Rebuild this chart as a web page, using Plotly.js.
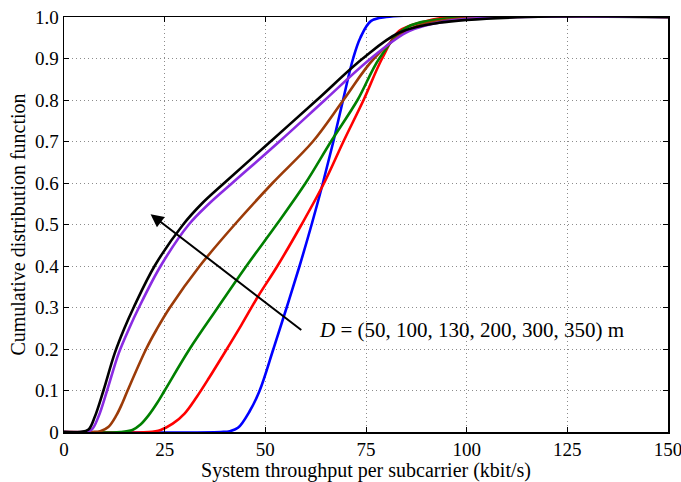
<!DOCTYPE html>
<html><head><meta charset="utf-8">
<script src="https://cdn.plot.ly/plotly-3.0.1.min.js"></script>
<style>html,body{margin:0;padding:0;background:#fff}#c{width:681px;height:482px}</style>
</head><body><div id="c"></div>
<script>
// D = 50 m (blue)
const xD50 = [0, 39, 41.2, 43.2, 46.1, 48.6, 52, 55.3, 58.5, 61.5, 64.3, 66.9, 69.3, 71.8, 73.6, 76.2, 80, 150];
const yD50 = [0, 0, 0.002, 0.01, 0.05, 0.1, 0.2, 0.3, 0.4, 0.5, 0.6, 0.7, 0.8, 0.9, 0.95, 0.99, 1, 1];
// D = 100 m (red)
const xD100 = [0, 21, 24, 27, 30, 33, 36, 39.5, 44, 48.2, 53, 59, 64.6, 69.4, 74.4, 79, 83.2, 89.9, 96, 150];
const yD100 = [0, 0, 0.005, 0.02, 0.045, 0.085, 0.13, 0.185, 0.257, 0.327, 0.4, 0.5, 0.6, 0.7, 0.8, 0.9, 0.966, 0.99, 1, 1];
// D = 130 m (green)
const xD130 = [0, 14, 17, 19, 21, 23, 25, 31.2, 38.2, 45.3, 52.8, 60, 66.3, 72.9, 78.3, 84.9, 93.1, 105, 150];
const yD130 = [0, 0, 0.005, 0.018, 0.04, 0.068, 0.1, 0.2, 0.3, 0.4, 0.5, 0.6, 0.7, 0.8, 0.9, 0.974, 0.994, 1, 1];
// D = 200 m (brown)
const xD200 = [0, 7, 9, 11, 13, 14.5, 15.8, 20.4, 23, 26.3, 33.7, 42.4, 51.8, 61.8, 69.4, 77, 85.7, 95, 110, 150];
const yD200 = [0, 0, 0.002, 0.012, 0.04, 0.07, 0.1, 0.2, 0.247, 0.3, 0.4, 0.5, 0.6, 0.7, 0.8, 0.9, 0.97, 0.993, 1, 1];
// D = 300 m (purple)
const xD300 = [0, 5, 6.9, 8.6, 10.7, 13.6, 16.2, 18.6, 24, 31, 36, 41.8, 53.5, 64.8, 76.2, 85.7, 95, 112, 150];
const yD300 = [0, 0, 0.006, 0.038, 0.1, 0.19, 0.25, 0.3, 0.4, 0.5, 0.55, 0.6, 0.7, 0.8, 0.9, 0.966, 0.99, 1, 1];
// D = 350 m (black)
const xD350 = [0, 4, 6.1, 7.7, 9.8, 12.6, 15, 17.3, 22.5, 29.6, 34.2, 39.8, 51.3, 62.8, 74.2, 83.2, 93.1, 115, 150];
const yD350 = [0, 0, 0.006, 0.038, 0.1, 0.19, 0.25, 0.3, 0.4, 0.5, 0.55, 0.6, 0.7, 0.8, 0.9, 0.962, 0.986, 1, 1];

const xTicks = [0, 25, 50, 75, 100, 125, 150];
const yTicks = [0, 0.1, 0.2, 0.3, 0.4, 0.5, 0.6, 0.7, 0.8, 0.9, 1.0];
const yTickText = ["0", "0.1", "0.2", "0.3", "0.4", "0.5", "0.6", "0.7", "0.8", "0.9", "1.0"];

const series = [
  {x: xD50, y: yD50, c: "#0000ff", n: "D = 50 m"},
  {x: xD100, y: yD100, c: "#ff0000", n: "D = 100 m"},
  {x: xD130, y: yD130, c: "#008000", n: "D = 130 m"},
  {x: xD200, y: yD200, c: "#9c3b08", n: "D = 200 m"},
  {x: xD300, y: yD300, c: "#8a2be2", n: "D = 300 m"},
  {x: xD350, y: yD350, c: "#000000", n: "D = 350 m"}
];
const traces = series.map(s => ({
  x: s.x, y: s.y, name: s.n, type: "scatter", mode: "lines",
  line: {color: s.c, width: 2.6, shape: "spline", smoothing: 1},
  hoverinfo: "skip"
}));

const F = "Liberation Serif, DejaVu Serif, serif";
const layout = {
  width: 681, height: 482,
  margin: {l: 64, r: 13, t: 17, b: 50},
  paper_bgcolor: "#fff", plot_bgcolor: "#fff",
  showlegend: false,
  font: {family: F, size: 19, color: "#000"},
  xaxis: {
    range: [0, 150], tickvals: xTicks, ticktext: xTicks.map(String),
    ticklabeloverflow: "allow",
    showgrid: true, gridcolor: "#8c8c8c", griddash: "1px,3px", gridwidth: 1,
    zeroline: false, showline: true, linecolor: "#000", linewidth: 1.5, mirror: "ticks",
    ticks: "inside", ticklen: 5, tickcolor: "#000", tickfont: {family: F, size: 19},
    title: {text: "System throughput per subcarrier (kbit/s)", font: {family: F, size: 20}, standoff: 2}
  },
  yaxis: {
    range: [0, 1], tickvals: yTicks, ticktext: yTickText,
    showgrid: true, gridcolor: "#8c8c8c", griddash: "1px,3px", gridwidth: 1,
    zeroline: false, showline: true, linecolor: "#000", linewidth: 1.5, mirror: "ticks",
    ticks: "inside", ticklen: 5, tickcolor: "#000", tickfont: {family: F, size: 19},
    title: {text: "Cumulative distribution function", font: {family: F, size: 20}, standoff: 4}
  },
  annotations: [
    {x: 21.5, y: 0.525, ax: 59.3, ay: 0.243, xref: "x", yref: "y", axref: "x", ayref: "y",
     text: "", showarrow: true, arrowhead: 2, arrowsize: 1.3, arrowwidth: 2, arrowcolor: "#000"},
    {x: 62.8, y: 0.247, xref: "x", yref: "y", xanchor: "left", yanchor: "middle", showarrow: false,
     text: "<i>D</i> = (50, 100, 130, 200, 300, 350) m", font: {family: F, size: 21, color: "#000"}}
  ]
};
Plotly.newPlot("c", traces, layout, {staticPlot: true, displayModeBar: false});
</script></body></html>
